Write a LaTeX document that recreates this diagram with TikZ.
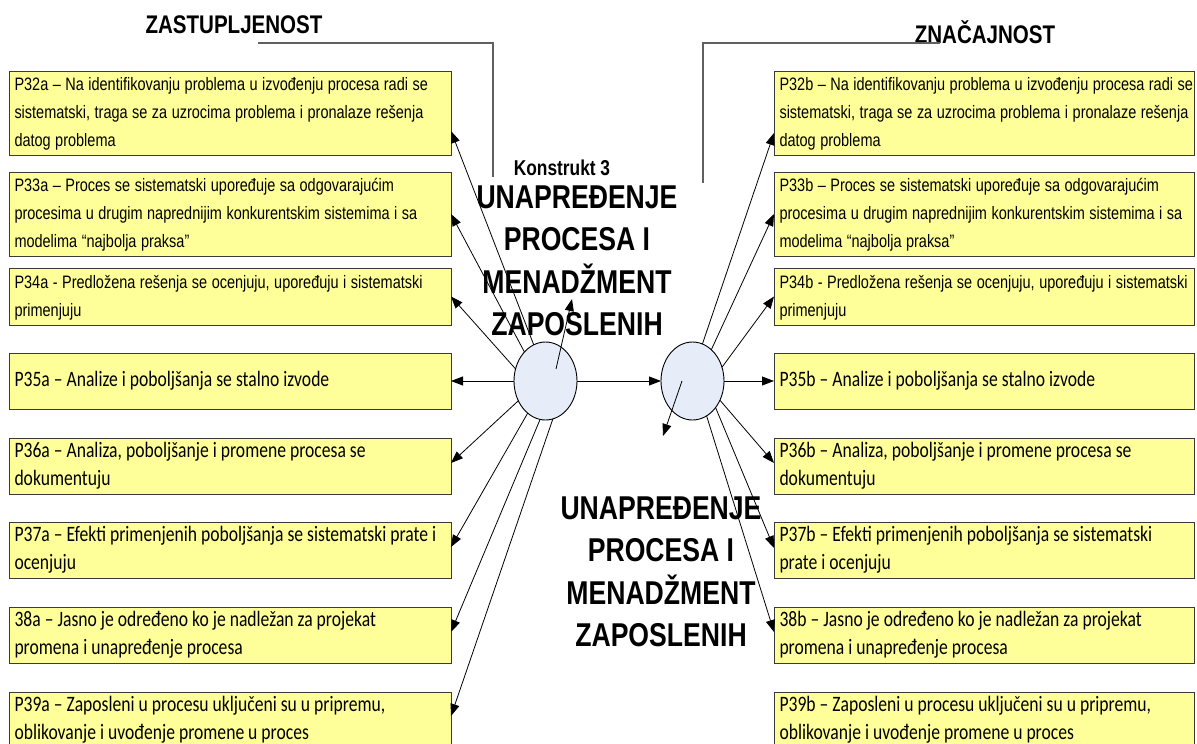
\documentclass[tikz,border=0pt]{standalone}
\usepackage{fontspec}
\setmainfont{Liberation Sans}
% the drawing is set tall: glyphs are compressed sideways
\newfontfamily\narrowrm[FakeStretch=0.805]{Liberation Sans}
\newfontfamily\boldnarrow[FakeStretch=0.806]{Liberation Sans}
\newfontfamily\calibrirm[FakeStretch=0.80]{Carlito}
\usetikzlibrary{arrows.meta,shapes.geometric}

\definecolor{boxfill}{HTML}{FFFF99}
\definecolor{boxline}{HTML}{3A3A3A}
\definecolor{bubblefill}{HTML}{E6ECF8}
\definecolor{leader}{HTML}{606060}

% keeps the hand-set line breaks of a box text
\newcommand\itemlines[1]{\begin{tabular}{@{}l@{}}#1\end{tabular}}

\tikzset{
  boxbase/.style={draw=boxline, fill=boxfill, line width=1pt, rectangle,
    anchor=north west, inner xsep=5.5pt, inner ysep=0pt, outer sep=0pt, align=left},
  lbox/.style={boxbase, text width=431pt},
  rbox/.style={boxbase, text width=409pt},
  arialtxt/.style={font=\narrowrm\fontsize{18}{28}\selectfont,
    execute at begin node={\spaceskip=4.5pt\relax}},
  calitxt/.style={font=\calibrirm\fontsize{22}{28}\selectfont,
    execute at begin node={\spaceskip=4pt\relax}},
  bubble/.style={ellipse, draw=black, line width=0.9pt, fill=bubblefill,
    minimum width=63pt, minimum height=78pt, inner sep=0pt, outer sep=0pt},
  link/.style={-{Triangle[length=12pt,width=9pt]}, line width=0.8pt, black},
  leaderline/.style={draw=leader, line width=1.1pt},
  heading/.style={font=\boldnarrow\bfseries\fontsize{25.5}{28}\selectfont, inner sep=0pt},
  konst/.style={font=\boldnarrow\bfseries\fontsize{21.5}{24}\selectfont, inner sep=0pt},
  bigtitle/.style={font=\boldnarrow\bfseries\fontsize{33}{42.5}\selectfont, align=center, inner sep=0pt},
}

\begin{document}
\begin{tikzpicture}[x=1pt,y=-1pt]
\useasboundingbox (0,0) rectangle (1197,744);

% ---- left column: ZASTUPLJENOST
\node[lbox, arialtxt, minimum height=84pt] (p32a) at (9,71) {\itemlines{P32a – Na identifikovanju problema u izvođenju procesa radi se\\sistematski, traga se za uzrocima problema i pronalaze rešenja\\datog problema}};
\node[lbox, arialtxt, minimum height=80pt] (p33a) at (9,172) {\itemlines{P33a – Proces se sistematski upoređuje sa odgovarajućim\\procesima u drugim naprednijim konkurentskim sistemima i sa\\modelima “najbolja praksa”}};
\node[lbox, arialtxt, minimum height=57pt] (p34a) at (9,268) {\itemlines{P34a - Predložena rešenja se ocenjuju, upoređuju i sistematski\\primenjuju}};
\node[lbox, calitxt, minimum height=56pt] (p35a) at (9,353) {\itemlines{P35a – Analize i poboljšanja se stalno izvode}};
\node[lbox, calitxt, minimum height=56pt] (p36a) at (9,438) {\itemlines{P36a – Analiza, poboljšanje i promene procesa se\\dokumentuju}};
\node[lbox, calitxt, minimum height=56pt] (p37a) at (9,522) {\itemlines{P37a – Efekti primenjenih poboljšanja se sistematski prate i\\ocenjuju}};
\node[lbox, calitxt, minimum height=56pt] (p38a) at (9,607) {\itemlines{38a – Jasno je određeno ko je nadležan za projekat\\promena i unapređenje procesa}};
\node[lbox, calitxt, minimum height=51pt] (p39a) at (9,692) {\itemlines{P39a – Zaposleni u procesu uključeni su u pripremu,\\oblikovanje i uvođenje promene u proces}};

% ---- right column: ZNAČAJNOST
\node[rbox, arialtxt, minimum height=84pt] (p32b) at (774,71) {\itemlines{P32b – Na identifikovanju problema u izvođenju procesa radi se\\sistematski, traga se za uzrocima problema i pronalaze rešenja\\datog problema}};
\node[rbox, arialtxt, minimum height=80pt] (p33b) at (774,172) {\itemlines{P33b – Proces se sistematski upoređuje sa odgovarajućim\\procesima u drugim naprednijim konkurentskim sistemima i sa\\modelima “najbolja praksa”}};
\node[rbox, arialtxt, minimum height=57pt] (p34b) at (774,268) {\itemlines{P34b - Predložena rešenja se ocenjuju, upoređuju i sistematski\\primenjuju}};
\node[rbox, calitxt, minimum height=56pt] (p35b) at (774,353) {\itemlines{P35b – Analize i poboljšanja se stalno izvode}};
\node[rbox, calitxt, minimum height=56pt] (p36b) at (774,438) {\itemlines{P36b – Analiza, poboljšanje i promene procesa se\\dokumentuju}};
\node[rbox, calitxt, minimum height=56pt] (p37b) at (774,522) {\itemlines{P37b – Efekti primenjenih poboljšanja se sistematski\\prate i ocenjuju}};
\node[rbox, calitxt, minimum height=56pt] (p38b) at (774,607) {\itemlines{38b – Jasno je određeno ko je nadležan za projekat\\promena i unapređenje procesa}};
\node[rbox, calitxt, minimum height=51pt] (p39b) at (774,692) {\itemlines{P39b – Zaposleni u procesu uključeni su u pripremu,\\oblikovanje i uvođenje promene u proces}};

% ---- headings with their leader lines
\node[heading] (zast) at (234,25) {ZASTUPLJENOST};
\node[heading] (znac) at (985,32) {ZNAČAJNOST};
\coordinate (zastend) at (258,43);
\coordinate (zastdrop) at (493,177);
\coordinate (znacend) at (940,43);
\coordinate (znacdrop) at (703,183);
\draw[leaderline] (zastend) -| (zastdrop);
\draw[leaderline] (znacend) -| (znacdrop);

% ---- construct titles
\node[konst] (k3) at (562,168) {Konstrukt 3};
\node[bigtitle] (upper) at (577,261) {UNAPREĐENJE\\PROCESA I\\MENADŽMENT\\ZAPOSLENIH};
\node[bigtitle] (lower) at (661,572) {UNAPREĐENJE\\PROCESA I\\MENADŽMENT\\ZAPOSLENIH};

% ---- latent variables
\node[bubble] (c1) at (545.5,381) {};
\node[bubble] (c2) at (692.5,381) {};

% ---- indicator arrows, left
\draw[link] (c1.108) -- ([yshift=-18pt]p32a.east);
\draw[link] (c1.126) -- (p33a.east);
\draw[link] (c1.158) -- (p34a.east);
\draw[link] (c1.west) -- (p35a.east);
\draw[link] (c1.216) -- ([yshift=3pt]p36a.east);
\draw[link] (c1.241) -- ([yshift=3pt]p37a.east);
\draw[link] (c1.262) -- ([yshift=3pt]p38a.east);
\draw[link] (c1.281) -- ([yshift=4pt]p39a.east);

% ---- indicator arrows, right
\draw[link] (c2.75) -- ([yshift=-20pt]p32b.west);
\draw[link] (c2.59) -- (p33b.west);
\draw[link] (c2.25) -- (p34b.west);
\draw[link] (c2.east) -- (p35b.west);
\draw[link] (c2.325) -- ([yshift=3pt]p36b.west);
\draw[link] (c2.311) -- ([yshift=2pt]p37b.west);
\draw[link] (c2.292) -- ([yshift=3pt]p38b.west);

% ---- path between the two constructs and the error terms
\draw[link] (c1.east) -- (c2.west);
\coordinate (uptip) at (572,299);
\coordinate (dntip) at (663,436);
\draw[link] ([shift={(10.5,-12)}]c1.center) -- (uptip);
\draw[link] ([shift={(-10.5,0)}]c2.center) -- (dntip);
\end{tikzpicture}
\end{document}
